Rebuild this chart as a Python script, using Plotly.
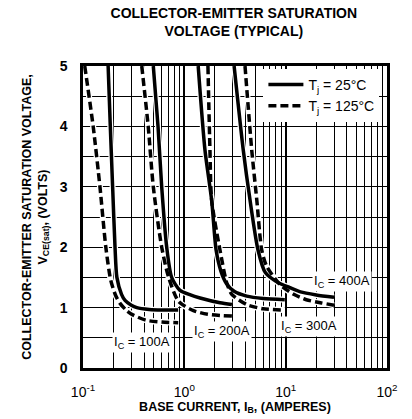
import math
import plotly.graph_objects as go

# ---- data ----
# Tj = 25 C (solid)
ib_100_25 = [0.177, 0.186, 0.196, 0.207, 0.216, 0.240, 0.260, 0.300, 0.340, 0.450, 0.600, 0.870]
v_100_25 = [5.0, 4.0, 3.0, 2.0, 1.5, 1.22, 1.12, 1.04, 1.00, 0.97, 0.96, 0.96]
ib_200_25 = [0.494, 0.550, 0.598, 0.670, 0.750, 0.900, 1.15, 1.43, 2.25, 2.95]
v_200_25 = [5.0, 4.0, 3.0, 2.0, 1.5, 1.29, 1.21, 1.16, 1.08, 1.05]
ib_300_25 = [1.37, 1.60, 1.86, 2.06, 2.30, 2.60, 3.10, 4.13, 6.00, 9.80]
v_300_25 = [5.0, 3.6, 2.78, 1.95, 1.6, 1.40, 1.27, 1.19, 1.15, 1.13]
ib_400_25 = [3.10, 3.82, 4.45, 5.34, 6.30, 8.30, 11.0, 14.0, 20.0, 30.0]
v_400_25 = [5.0, 3.6, 2.78, 1.95, 1.58, 1.42, 1.33, 1.26, 1.21, 1.17]

# Tj = 125 C (dashed)
ib_100_125 = [0.104, 0.126, 0.147, 0.168, 0.188, 0.210, 0.232, 0.270, 0.310, 0.420, 0.600, 0.870]
v_100_125 = [5.0, 4.0, 3.0, 2.0, 1.45, 1.20, 1.07, 0.95, 0.88, 0.79, 0.76, 0.75]
ib_200_125 = [0.380, 0.440, 0.494, 0.598, 0.700, 0.880, 1.23, 1.70, 2.25, 2.95]
v_200_125 = [5.0, 4.0, 3.0, 2.0, 1.5, 1.10, 0.95, 0.89, 0.87, 0.86]
ib_300_125 = [1.71, 1.79, 1.86, 2.25, 2.62, 2.94, 4.13, 6.00, 9.80]
v_300_125 = [5.0, 3.6, 2.78, 1.95, 1.41, 1.22, 1.05, 0.98, 0.96]
ib_400_125 = [3.97, 4.63, 5.19, 5.81, 6.51, 8.80, 12.0, 16.0, 22.0, 30.0]
v_400_125 = [5.0, 3.6, 2.78, 1.95, 1.68, 1.38, 1.22, 1.13, 1.08, 1.04]

x_tick_vals = [0.1, 1, 10, 100]
x_tick_text = ["10<sup>-1</sup>", "10<sup>0</sup>", "10<sup>1</sup>", "10<sup>2</sup>"]
x_minor_vals = [m * d for d in (0.1, 1, 10) for m in range(2, 10)]
y_tick_vals = [0, 1, 2, 3, 4, 5]

labels = ["I<sub>C</sub> = 100A", "I<sub>C</sub> = 200A", "I<sub>C</sub> = 300A", "I<sub>C</sub> = 400A"]
label_x = [0.378, 2.35, 16.8, 35.8]
label_y = [0.42, 0.60, 0.68, 1.43]

solid = [(ib_100_25, v_100_25), (ib_200_25, v_200_25), (ib_300_25, v_300_25), (ib_400_25, v_400_25)]
dashed = [(ib_100_125, v_100_125), (ib_200_125, v_200_125), (ib_300_125, v_300_125), (ib_400_125, v_400_125)]

FONT = "Arial"
fig = go.Figure()

# white underlays hide the grid beneath the curves
for xs, ys in solid + dashed:
    fig.add_trace(go.Scatter(x=xs, y=ys, mode="lines", showlegend=False, hoverinfo="skip",
                             line=dict(color="white", width=6, shape="spline", smoothing=0.7)))

for i, (xs, ys) in enumerate(solid):
    fig.add_trace(go.Scatter(x=xs, y=ys, mode="lines", name="T<sub>j</sub> = 25°C",
                             showlegend=(i == 0), legendgroup="25",
                             line=dict(color="black", width=3.5, shape="spline", smoothing=0.7)))
for i, (xs, ys) in enumerate(dashed):
    fig.add_trace(go.Scatter(x=xs, y=ys, mode="lines", name="T<sub>j</sub> = 125°C",
                             showlegend=(i == 0), legendgroup="125",
                             line=dict(color="black", width=3.5, dash="8px,4px", shape="spline", smoothing=0.7)))

# annotations on a log axis take log10 positions
for t, xv, yv in zip(labels, label_x, label_y):
    fig.add_annotation(x=math.log10(xv), y=yv, xref="x", yref="y", text=t, showarrow=False,
                       bgcolor="white", borderpad=1,
                       font=dict(family=FONT, size=13, color="black"))

fig.update_xaxes(type="log", range=[-1, 2], tickvals=x_tick_vals, ticktext=x_tick_text,
                 showgrid=True, gridcolor="black", gridwidth=1.6,
                 minor=dict(tickvals=x_minor_vals, showgrid=True, gridcolor="black", gridwidth=1),
                 showline=True, linecolor="black", linewidth=2.5, mirror=True, ticks="",
                 tickfont=dict(family=FONT, size=14, color="black"),
                 ticklabelstandoff=9,
                 title=dict(text="<b>BASE CURRENT, I<sub>B</sub>, (AMPERES)</b>",
                            font=dict(family=FONT, size=12.5, color="black"), standoff=4),
                 zeroline=False, automargin=False)
fig.update_yaxes(range=[0, 5], tickvals=y_tick_vals,
                 showgrid=True, gridcolor="black", gridwidth=1,
                 minor=dict(dtick=0.5, showgrid=True, gridcolor="black", gridwidth=1),
                 showline=True, linecolor="black", linewidth=2.5, mirror=True, ticks="",
                 tickfont=dict(family=FONT, size=14, color="black", weight="bold"),
                 ticklabelstandoff=10,
                 title=dict(text="<b>COLLECTOR-EMITTER SATURATION VOLTAGE,<br>V<sub>CE(sat)</sub>, (VOLTS)</b>",
                            font=dict(family=FONT, size=12.5, color="black"), standoff=10),
                 zeroline=False, automargin=False)

fig.update_layout(
    width=404, height=411,
    margin=dict(l=75, r=25, t=58, b=51, autoexpand=False),
    paper_bgcolor="white", plot_bgcolor="white",
    title=dict(text="<b>COLLECTOR-EMITTER SATURATION<br>VOLTAGE (TYPICAL)</b>",
               x=0.559, xanchor="center", y=0.975, yanchor="top",
               font=dict(family=FONT, size=14, color="black")),
    legend=dict(x=0.975, xanchor="right", y=0.99, yanchor="top", bgcolor="white",
                font=dict(family=FONT, size=14, color="black"), tracegroupgap=0,
                itemwidth=35, borderwidth=0),
    showlegend=True,
)

fig.write_html("out.html")
